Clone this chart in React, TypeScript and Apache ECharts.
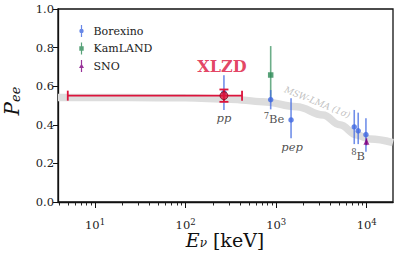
import React, { useEffect, useRef } from 'react';
import * as echarts from 'echarts';

// MSW-LMA (1 sigma) band centre
const bandEnergy = [3.9, 24, 100, 310, 710, 1690, 3300, 5050, 7770, 10900, 19500];
const bandPee = [0.541, 0.541, 0.54, 0.533, 0.52, 0.494, 0.451, 0.4, 0.347, 0.326, 0.308];

// Borexino
const borexinoEnergy = [265, 870, 1460, 7280, 8050, 9800];
const borexinoPee = [0.567, 0.53, 0.425, 0.389, 0.369, 0.349];
const borexinoLow = [0.477, 0.48, 0.33, 0.3, 0.3, 0.261];
const borexinoHigh = [0.657, 0.58, 0.537, 0.477, 0.463, 0.434];

// KamLAND
const kamlandEnergy = [870];
const kamlandPee = [0.658];
const kamlandLow = [0.52];
const kamlandHigh = [0.808];

// SNO
const snoEnergy = [9930];
const snoPee = [0.312];
const snoLow = [0.294];
const snoHigh = [0.33];

// XLZD projection
const xlzdEnergy = [265];
const xlzdPee = [0.551];
const xlzdLow = [0.519];
const xlzdHigh = [0.583];
const xlzdEnergyLow = [5];
const xlzdEnergyHigh = [420];

// axis
const xMinKeV = 3.9;
const xMaxKeV = 19500;
const majorTickKeV = [10, 100, 1000, 10000];
const minorTickKeV = [4, 5, 6, 7, 8, 9, 20, 30, 40, 50, 60, 70, 80, 90, 200, 300, 400, 500, 600, 700, 800, 900, 2000, 3000, 4000, 5000, 6000, 7000, 8000, 9000];

// annotations (energy keV, Pee)
const annotationText = ['pp', '7Be', 'pep', '8B'];
const annotationEnergy = [265, 946, 1497, 8020];
const annotationPee = [0.435, 0.435, 0.285, 0.244];

const L = Math.log10;
const FONT = 'DejaVu Serif';

function errBars(color: string, lw: number, opacity: number, capV: number, capH: number) {
  return (params: any, api: any) => {
    const x = api.value(0);
    const lo = api.value(2);
    const hi = api.value(3);
    const xl = api.value(4);
    const xh = api.value(5);
    const y = api.value(1);
    const pT = api.coord([x, hi]);
    const pB = api.coord([x, lo]);
    const style = { stroke: color, lineWidth: lw, opacity };
    const children: any[] = [
      { type: 'line', shape: { x1: pT[0], y1: pT[1], x2: pB[0], y2: pB[1] }, style },
    ];
    if (capV > 0) {
      children.push({ type: 'line', shape: { x1: pT[0] - capV, y1: pT[1], x2: pT[0] + capV, y2: pT[1] }, style });
      children.push({ type: 'line', shape: { x1: pB[0] - capV, y1: pB[1], x2: pB[0] + capV, y2: pB[1] }, style });
    }
    if (xl !== xh) {
      const pL = api.coord([xl, y]);
      const pR = api.coord([xh, y]);
      children.push({ type: 'line', shape: { x1: pL[0], y1: pL[1], x2: pR[0], y2: pR[1] }, style });
      if (capH > 0) {
        children.push({ type: 'line', shape: { x1: pL[0], y1: pL[1] - capH, x2: pL[0], y2: pL[1] + capH }, style });
        children.push({ type: 'line', shape: { x1: pR[0], y1: pR[1] - capH, x2: pR[0], y2: pR[1] + capH }, style });
      }
    }
    return { type: 'group', children };
  };
}

function barData(e: number[], p: number[], lo: number[], hi: number[], el?: number[], eh?: number[]) {
  return e.map((v, i) => [L(v), p[i], lo[i], hi[i], L(el ? el[i] : v), L(eh ? eh[i] : v)]);
}

export default function App() {
  const ref = useRef<HTMLDivElement>(null);
  useEffect(() => {
    document.body.style.margin = '0';
    if (!ref.current) return;
    const chart = echarts.init(ref.current, null, { renderer: 'svg' });
    const xMin = L(xMinKeV);
    const xMax = L(xMaxKeV);
    const option: any = {
      animation: false,
      backgroundColor: '#fff',
      textStyle: { fontFamily: FONT },
      grid: { left: 58, top: 9, right: 4, bottom: 57, show: true, borderColor: '#111', borderWidth: 1.3, backgroundColor: '#fff' },
      legend: {
        left: 74,
        top: 20,
        orient: 'vertical',
        itemWidth: 14,
        itemHeight: 12,
        itemGap: 5.5,
        symbolKeepAspect: true,
        textStyle: { fontFamily: FONT, fontSize: 11, color: '#222' },
        data: [
          { name: 'Borexino', icon: 'path://M4.4,0H5.6V12H4.4Z M2.8,6A2.2,2.2 0 1,1 7.2,6A2.2,2.2 0 1,1 2.8,6Z' },
          { name: 'KamLAND', icon: 'path://M4.4,0H5.6V12H4.4Z M2.8,3.8H7.2V8.2H2.8Z' },
          { name: 'SNO', icon: 'path://M4.4,0H5.6V12H4.4Z M5,3.5L7.5,8L2.5,8Z' },
        ],
      },
      xAxis: [
        {
          type: 'value',
          min: xMin,
          max: xMax,
          position: 'bottom',
          splitLine: { show: false },
          axisLine: { show: true, onZero: false, lineStyle: { color: '#111', width: 1.3 } },
          axisTick: { show: true, customValues: majorTickKeV.map(L), length: 6, lineStyle: { color: '#111', width: 1 } },
          axisLabel: {
            show: true,
            customValues: majorTickKeV.map(L),
            margin: 15,
            formatter: (v: number) => `{b|10}{s|${Math.round(v)}}`,
            rich: {
              b: { fontFamily: FONT, fontSize: 11.5, color: '#222', lineHeight: 14, verticalAlign: 'bottom' },
              s: { fontFamily: FONT, fontSize: 8.5, color: '#222', lineHeight: 14, verticalAlign: 'top', padding: [0, 0, 5, 0] },
            },
          },
        },
        {
          type: 'value',
          min: xMin,
          max: xMax,
          position: 'bottom',
          splitLine: { show: false },
          axisLine: { show: false, onZero: false },
          axisTick: { show: true, customValues: minorTickKeV.map(L), length: 3.5, lineStyle: { color: '#111', width: 0.9 } },
          axisLabel: { show: false },
        },
      ],
      yAxis: {
        type: 'value',
        min: 0,
        max: 1,
        interval: 0.2,
        splitLine: { show: false },
        axisLine: { show: true, onZero: false, lineStyle: { color: '#111', width: 1.3 } },
        axisTick: { show: true, length: 5, lineStyle: { color: '#111', width: 1 } },
        axisLabel: {
          margin: 4,
          formatter: (v: number) => v.toFixed(1),
          fontFamily: FONT,
          fontSize: 11.5,
          color: '#222',
        },
      },
      graphic: [
        {
          type: 'text',
          x: 11,
          y: 101,
          rotation: Math.PI / 2,
          style: {
            text: '{b|P}{s|ee}',
            align: 'center',
            verticalAlign: 'middle',
            rich: {
              b: { fontFamily: FONT, fontStyle: 'italic', fontSize: 20, fill: '#111', lineHeight: 22, verticalAlign: 'bottom' },
              s: { fontFamily: FONT, fontStyle: 'italic', fontSize: 13, fill: '#111', lineHeight: 22, verticalAlign: 'bottom' },
            },
          },
        },
        {
          type: 'text',
          x: 225,
          y: 238,
          style: {
            text: '{b|E}{s|ν}{r| [keV]}',
            align: 'center',
            verticalAlign: 'middle',
            rich: {
              b: { fontFamily: FONT, fontStyle: 'italic', fontSize: 19, fill: '#111', lineHeight: 22, verticalAlign: 'bottom' },
              s: { fontFamily: FONT, fontStyle: 'italic', fontSize: 12, fill: '#111', lineHeight: 22, verticalAlign: 'bottom' },
              r: { fontFamily: FONT, fontSize: 19, fill: '#111', lineHeight: 22, verticalAlign: 'bottom' },
            },
          },
        },
      ],
      series: [
        {
          name: 'MSW-LMA',
          type: 'line',
          data: bandEnergy.map((e, i) => [L(e), bandPee[i]]),
          smooth: 0.4,
          smoothMonotone: 'x',
          symbol: 'none',
          lineStyle: { color: '#dddddd', width: 7.5 },
          z: 1,
          silent: true,
        },
        {
          name: 'borexino-err',
          type: 'custom',
          renderItem: errBars('#4169e1', 1.6, 0.75, 0, 0),
          data: barData(borexinoEnergy, borexinoPee, borexinoLow, borexinoHigh),
          encode: { x: 0, y: 1 },
          z: 3,
          silent: true,
        },
        {
          name: 'kamland-err',
          type: 'custom',
          renderItem: errBars('#2e8b57', 1.6, 0.7, 0, 0),
          data: barData(kamlandEnergy, kamlandPee, kamlandLow, kamlandHigh),
          encode: { x: 0, y: 1 },
          z: 2,
          silent: true,
        },
        {
          name: 'sno-err',
          type: 'custom',
          renderItem: errBars('#800080', 1.6, 0.75, 0, 0),
          data: barData(snoEnergy, snoPee, snoLow, snoHigh),
          encode: { x: 0, y: 1 },
          z: 3,
          silent: true,
        },
        {
          name: 'Borexino',
          type: 'scatter',
          symbol: 'circle',
          symbolSize: 5.5,
          itemStyle: { color: '#4169e1' },
          data: borexinoEnergy.map((e, i) => [L(e), borexinoPee[i]]),
          z: 4,
        },
        {
          name: 'KamLAND',
          type: 'scatter',
          symbol: 'rect',
          symbolSize: 5.5,
          itemStyle: { color: '#2e8b57' },
          data: kamlandEnergy.map((e, i) => [L(e), kamlandPee[i]]),
          z: 4,
        },
        {
          name: 'SNO',
          type: 'scatter',
          symbol: 'triangle',
          symbolSize: 6,
          itemStyle: { color: '#800080' },
          data: snoEnergy.map((e, i) => [L(e), snoPee[i]]),
          z: 4,
        },
        {
          name: 'xlzd-err',
          type: 'custom',
          renderItem: errBars('#dc143c', 1.8, 1, 4.5, 5),
          data: barData(xlzdEnergy, xlzdPee, xlzdLow, xlzdHigh, xlzdEnergyLow, xlzdEnergyHigh),
          encode: { x: 0, y: 1 },
          z: 5,
          silent: true,
        },
        {
          name: 'XLZD',
          type: 'scatter',
          symbol: 'circle',
          symbolSize: 8,
          itemStyle: { color: '#dc143c', borderColor: '#7a0a1e', borderWidth: 1 },
          data: xlzdEnergy.map((e, i) => [L(e), xlzdPee[i]]),
          label: {
            show: true,
            position: 'top',
            distance: 17,
            formatter: 'XLZD',
            fontFamily: FONT,
            fontWeight: 'bold',
            fontSize: 16,
            color: '#dc143c',
            offset: [-2, 0],
          },
          z: 6,
        },
        {
          name: 'annotations',
          type: 'scatter',
          symbolSize: 0,
          silent: true,
          data: annotationEnergy.map((e, i) => ({ value: [L(e), annotationPee[i]], name: annotationText[i] })),
          label: {
            show: true,
            position: 'inside',
            fontFamily: FONT,
            formatter: (p: any) => {
              const n = p.name as string;
              if (n === 'pp' || n === 'pep') return `{i|${n}}`;
              return `{s|${n[0]}}{r|${n.slice(1)}}`;
            },
            rich: {
              i: { fontFamily: FONT, fontStyle: 'italic', fontSize: 11.5, color: '#222' },
              r: { fontFamily: FONT, fontSize: 11.5, color: '#222', lineHeight: 14, verticalAlign: 'bottom' },
              s: { fontFamily: FONT, fontSize: 8.5, color: '#222', lineHeight: 14, verticalAlign: 'top' },
            },
          },
          z: 6,
        },
        {
          name: 'band-label',
          type: 'scatter',
          symbolSize: 0,
          silent: true,
          data: [{ value: [L(2850), 0.516], name: 'MSW-LMA (1σ)' }],
          label: {
            show: true,
            position: 'inside',
            rotate: -22,
            formatter: '{b}',
            fontFamily: FONT,
            fontStyle: 'italic',
            fontSize: 9,
            color: '#b0b0b0',
          },
          z: 2,
        },
      ],
    };
    chart.setOption(option);
    return () => chart.dispose();
  }, []);
  return <div ref={ref} style={{ position: 'absolute', left: 0, top: 0, width: 397, height: 259 }} />;
}
